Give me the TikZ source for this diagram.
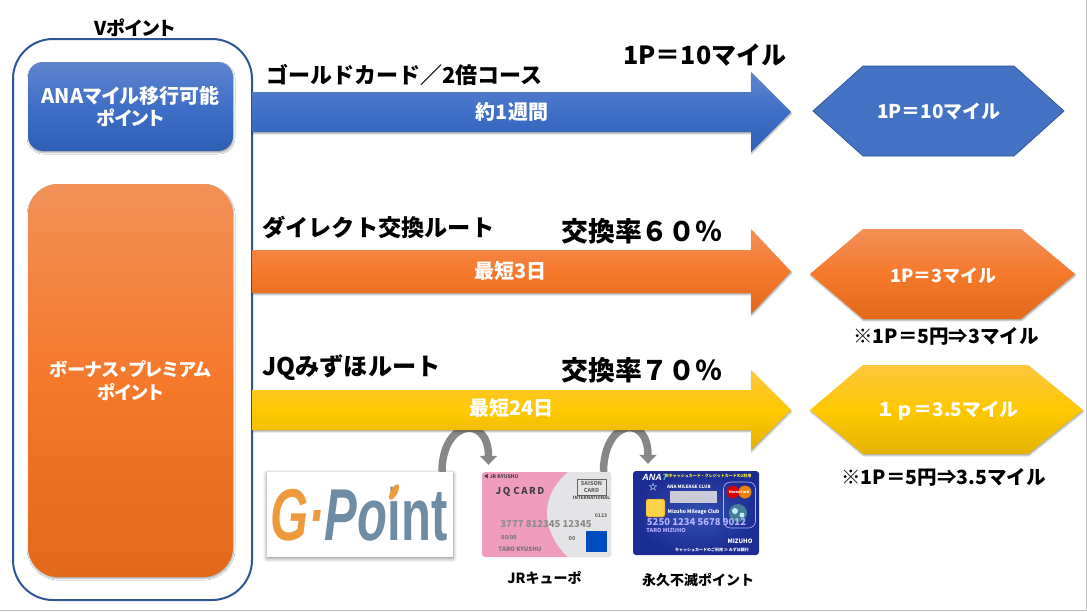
\documentclass[tikz,border=0pt]{standalone}
\usepackage{fontspec}
\usepackage{graphicx}
\usetikzlibrary{arrows.meta}
\usetikzlibrary{shadows.blur}
\setmainfont{Noto Sans CJK JP}
\newfontfamily\uifont[RawFeature=+palt]{Noto Sans CJK JP}
\newfontfamily\logofont{Liberation Sans}
\definecolor{frameblue}{HTML}{2F5597}
\definecolor{blueT}{HTML}{5F84CE}
\definecolor{blueM}{HTML}{3F6FC6}
\definecolor{blueB}{HTML}{2F5FB5}
\definecolor{hexblue}{HTML}{4472C4}
\definecolor{orangeT}{HTML}{F29158}
\definecolor{orangeM}{HTML}{F5782B}
\definecolor{orangeB}{HTML}{E3691A}
\definecolor{yellowT}{HTML}{FFC63F}
\definecolor{yellowM}{HTML}{FFC800}
\definecolor{yellowB}{HTML}{E5B300}
\definecolor{jqpink}{HTML}{F09DBD}
\definecolor{jqgrey}{HTML}{E4E4E6}
\definecolor{anablue}{HTML}{1B2C92}
\definecolor{anamid}{HTML}{3450B4}
\definecolor{logoorange}{HTML}{EE9A3C}
\definecolor{logoslate}{HTML}{6E8CA4}
\begin{document}
\begin{tikzpicture}[line cap=round,line join=round,x=1pt,y=-1pt,
  softshadow/.style={blur shadow={shadow xshift=0.6pt,shadow yshift=-1.6pt,shadow opacity=35,shadow blur radius=1.5pt,shadow blur steps=5}},
  logoshadow/.style={blur shadow={shadow xshift=0pt,shadow yshift=-1.5pt,shadow opacity=45,shadow blur radius=4pt,shadow blur steps=6}},
  bluefill/.style={top color=blueT,bottom color=blueB,middle color=blueM,softshadow},
  orangefill/.style={top color=orangeT,bottom color=orangeB,middle color=orangeM,softshadow},
  yellowfill/.style={top color=yellowT,bottom color=yellowB,middle color=yellowM,softshadow},
  ptbox/.style={rounded corners=15pt,minimum width=205pt,align=center,text=white,font=\uifont\bfseries,inner sep=0pt},
  head/.style={anchor=west,inner sep=0pt},
  rate/.style={anchor=west,font=\bfseries\fontsize{26.9}{30}\selectfont,inner sep=0pt},
  onarrow/.style={text=white,font=\uifont\bfseries\fontsize{20}{22}\selectfont,inner sep=0pt},
  onhex/.style={text=white,inner sep=0pt},
  note/.style={font=\bfseries\fontsize{19.5}{22}\selectfont,inner sep=0pt},
  small/.style={font=\bfseries\fontsize{14}{18}\selectfont,inner sep=0pt},
  tiny/.style={inner sep=0pt,font=\bfseries\fontsize{#1}{#1}\selectfont},
  hop/.style={-{Triangle[width=17pt,length=9pt]},draw=black!47,line width=7.5pt,line cap=butt,shorten >=7pt}]
\useasboundingbox (0,0) rectangle (1087,611);
\draw [color=black!25,line width=1pt] (1086.5,0)-- (1086.5,610.5)-- (0,610.5);
% left column
\node (vpoint) [font=\uifont\bfseries\fontsize{19}{22}\selectfont,inner sep=0pt] at (135,28) {Vポイント};
\draw [color=frameblue,line width=2pt,fill=white,rounded corners=40pt] (13,39) rectangle (252,600);
\node (anabox) [ptbox,bluefill,minimum height=89pt] at (130.5,106.5) {\fontsize{20}{24}\selectfont ANAマイル移行可能\\[3pt]\fontsize{19}{24}\selectfont ポイント};
\node (bonusbox) [ptbox,orangefill,rounded corners=30pt,minimum height=393pt] at (130.5,380.5) {\fontsize{18.3}{24}\selectfont ボーナス・プレミアム\\[5pt]\fontsize{18.3}{24}\selectfont ポイント};
% hops under the yellow arrow
\node (gpoint) [fill=white,logoshadow,minimum width=186pt,minimum height=85pt,inner sep=0pt] at (360,514.5) {};
\node (jqcard) [fill=jqpink,rounded corners=3pt,minimum width=129pt,minimum height=85pt,inner sep=0pt] at (546.5,514.5) {};
\node (anacard) [inner color=anamid,outer color=anablue,rounded corners=3pt,minimum width=126pt,minimum height=84pt,inner sep=0pt] at (696,513) {};
\draw [hop] ([xshift=82pt]gpoint.north) .. controls +(0,-52) and +(0,-58) .. ([xshift=-58pt]jqcard.north);
\draw [hop] ([xshift=57pt]jqcard.north) .. controls +(0,-52) and +(0,-58) .. ([xshift=-48pt]anacard.north);
% arrows
\path [bluefill] (252,92)-- (751,92)-- (751,72)-- (791,112)-- (751,152)-- (751,132)-- (252,132)-- cycle;
\path [orangefill] (252,250)-- (751,250)-- (751,229)-- (791,271.5)-- (751,314)-- (751,293)-- (252,293)-- cycle;
\path [yellowfill] (252,390)-- (751,390)-- (751,370)-- (791,410)-- (751,450)-- (751,430)-- (252,430)-- cycle;
\node (bluetime) [onarrow] at (512,112) {約1週間};
\node (orangetime) [onarrow] at (510.5,271) {最短3日};
\node (yellowtime) [onarrow] at (511.5,408) {最短24日};
% heads
\node (bluehead) [head,font=\bfseries\fontsize{22}{26}\selectfont] at (266,75) {ゴールドカード／2倍コース};
\node (bluerate) [font=\bfseries\fontsize{25}{28}\selectfont,inner sep=0pt] at (705,55) {1P＝10マイル};
\node (orangehead) [head,font=\bfseries\fontsize{23.2}{26}\selectfont] at (262,227) {ダイレクト交換ルート};
\node (orangerate) [rate] at (561,231) {交換率６０％};
\node (yellowhead) [head,font=\bfseries\fontsize{24.2}{26}\selectfont] at (262,368) {JQみずほルート};
\node (yellowrate) [rate] at (561,370) {交換率７０％};
% hexagons
\draw [color=frameblue,fill=hexblue,line width=0.75pt] (813,111)-- (863,66)-- (1014,66)-- (1064,111)-- (1014,156)-- (863,156)-- cycle;
\path [orangefill] (810,274)-- (863,229)-- (1021,229)-- (1075,274)-- (1021,319)-- (863,319)-- cycle;
\path [yellowfill] (810,410)-- (863,365)-- (1028,365)-- (1083,410)-- (1028,454)-- (863,454)-- cycle;
\node (bluehex) [onhex,font=\bfseries\fontsize{19}{22}\selectfont] at (939,111) {1P＝10マイル};
\node (orangehex) [onhex,font=\bfseries\fontsize{18}{22}\selectfont] at (943.5,276) {1P＝3マイル};
\node (yellowhex) [onhex,font=\bfseries\fontsize{18.8}{22}\selectfont] at (947.5,411) {１ｐ＝3.5マイル};
\node (orangenote) [note] at (946,336) {※1P＝5円⇒3マイル};
\node (yellownote) [note] at (943.5,477) {※1P＝5円⇒3.5マイル};
% logo
\node (gpointlogo) [inner sep=0pt] at (359,514) {\logofont\bfseries\fontsize{49}{49}\selectfont\scalebox{1}[1.5]{\textcolor{logoorange}{\itshape G·}\textcolor{logoslate}{{\itshape Po}int}}};
\fill [color=logoorange,rotate around={-28:(394,492)}] (394,492) ellipse (3.4pt and 8.5pt);
% first card
\begin{scope}
\clip [rounded corners=3pt] (482,472) rectangle (611,557);
\fill [color=jqgrey] (568,472) .. controls (553,485) and (547,499) .. (547,513) .. controls (547,529) and (555,545) .. (568,557)-- (611,557)-- (611,472)-- cycle;
\end{scope}
\node (jqline) [tiny=5,text=black!75] at (501,477) {◀ JR KYUSHU};
\node (jqname) [tiny=9.5,text=black!75] at (520,492) {J\,Q\,\,C\,A\,R\,D};
\node (saison) [draw=black!60,line width=0.5pt,tiny=5.5,text=black!60,align=center,minimum width=29pt,minimum height=16pt] at (591.5,487) {SAISON\\[1pt]CARD};
\node (saisonint) [tiny=4.5,text=black!70] at (591.5,497.5) {INTERNATIONAL};
\node (jqcode) [tiny=5,text=black!60] at (601,516) {0123};
\node (jqnumber) [tiny=9.5,text=black!45] at (546,524) {3777 812345 12345};
\node (jqdate) [tiny=5.5,text=black!55] at (509,538) {00/00};
\node (jqdateb) [tiny=5.5,text=black!55] at (572,538) {00};
\node (jqowner) [tiny=6,text=black!55] at (520,549) {TARO KYUSHU};
\node (amex) [fill=blue!60!cyan!75!black,minimum width=21pt,minimum height=21pt,inner sep=0pt] at (596.5,541.5) {};
% second card
\node (analogo) [tiny=9,text=white,font=\logofont\bfseries\itshape\fontsize{9}{9}\selectfont] at (652,477) {ANA};
\node (anaseven) [tiny=9,text=cyan!70,font=\logofont\bfseries\itshape\fontsize{9}{9}\selectfont] at (665,477) {7};
\node (analine) [tiny=4,text=yellow!80!white] at (708,476) {IDキャッシュカード・クレジットカードの2利用};
\node (anastar) [tiny=9,text=white] at (653,487) {☆};
\node (anaclub) [tiny=4.5,text=white] at (689,487) {ANA MILEAGE CLUB};
\node (anapanel) [fill=blue!15!gray!35!white,minimum width=47pt,minimum height=12pt,inner sep=0pt] at (693.5,497) {};
\node (anachip) [fill=yellow!55!orange!70!white,draw=orange!60!black,line width=0.3pt,rounded corners=2pt,minimum width=19pt,minimum height=18pt,inner sep=0pt] at (655.5,508) {};
\node (anamizuho) [tiny=5,text=white] at (693.5,512) {Mizuho Mileage Club};
\node (anaframe) [draw=white!70!blue,rounded corners=7pt,line width=0.6pt,minimum width=32pt,minimum height=46pt,inner sep=0pt] at (739.5,505) {};
\fill [color=red!85!black] (733,492) circle (6.5pt);
\fill [color=orange!90!yellow,opacity=0.9] (745,492) circle (6.5pt);
\node (anamaster) [tiny=3.5,text=white] at (739,492) {MasterCard};
\fill [color=cyan!55!black] (738,513) circle (9pt);
\fill [color=white!75!cyan] (735,511) circle (3pt) (742,515) circle (2.5pt);
\node (ananumber) [tiny=9.5,text=white!70!blue] at (696.5,522) {5250 1234 5678 9012};
\node (anaowner) [tiny=5.5,text=white!70!blue] at (666,530) {TARO MIZUHO};
\node (anabrand) [tiny=6,text=white] at (740,541) {MIZUHO};
\node (anafoot) [tiny=4,text=white] at (712,550) {キャッシュカードのご利用 ≫ みずほ銀行};
% captions
\node (jqcaption) [small] at (544.5,578) {JRキューポ};
\node (anacaption) [small] at (698,580) {永久不滅ポイント};
\end{tikzpicture}
\end{document}
